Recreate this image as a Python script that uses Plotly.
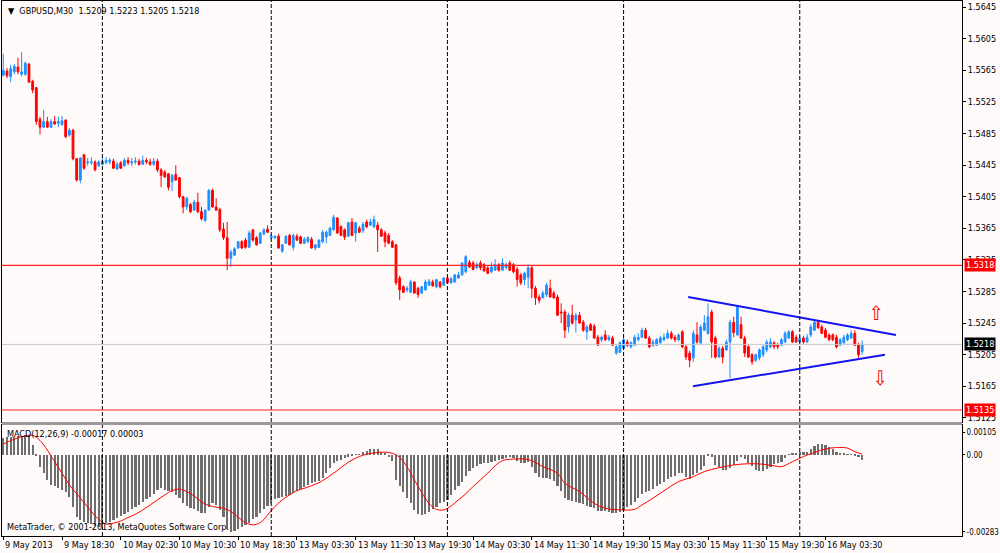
import plotly.graph_objects as go

# GBPUSD M30, one value per bar (bar 0 = 9 May 10:30)
opens = [
    1.5559, 1.5564, 1.5557, 1.5563, 1.5569, 1.5560, 1.5560, 1.5573, 1.5551, 1.5543,
    1.5503, 1.5493, 1.5500, 1.5493, 1.5500, 1.5498, 1.5496, 1.5502, 1.5483, 1.5489,
    1.5453, 1.5426, 1.5458, 1.5448, 1.5448, 1.5449, 1.5444, 1.5446, 1.5448, 1.5449,
    1.5450, 1.5440, 1.5448, 1.5444, 1.5451, 1.5448, 1.5449, 1.5450, 1.5446, 1.5451,
    1.5449, 1.5446, 1.5450, 1.5439, 1.5436, 1.5434, 1.5424, 1.5433, 1.5429, 1.5405,
    1.5392, 1.5395, 1.5388, 1.5398, 1.5386, 1.5375, 1.5388, 1.5413, 1.5392, 1.5389,
    1.5364, 1.5353, 1.5327, 1.5331, 1.5340, 1.5348, 1.5350, 1.5341, 1.5363, 1.5353,
    1.5346, 1.5358, 1.5364, 1.5353, 1.5353, 1.5355, 1.5336, 1.5346, 1.5356, 1.5341,
    1.5355, 1.5354, 1.5346, 1.5348, 1.5351, 1.5340, 1.5341, 1.5348, 1.5354, 1.5356,
    1.5363, 1.5378, 1.5367, 1.5363, 1.5355, 1.5373, 1.5359, 1.5365, 1.5362, 1.5373,
    1.5369, 1.5367, 1.5369, 1.5363, 1.5359, 1.5356, 1.5348, 1.5344, 1.5302, 1.5291,
    1.5287, 1.5284, 1.5297, 1.5289, 1.5283, 1.5287, 1.5293, 1.5297, 1.5291, 1.5297,
    1.5293, 1.5302, 1.5296, 1.5297, 1.5302, 1.5306, 1.5310, 1.5322, 1.5321, 1.5315,
    1.5321, 1.5319, 1.5315, 1.5310, 1.5312, 1.5319, 1.5312, 1.5315, 1.5321, 1.5319,
    1.5313, 1.5306, 1.5300, 1.5303, 1.5315, 1.5289, 1.5278, 1.5277, 1.5281, 1.5289,
    1.5283, 1.5278, 1.5259, 1.5259, 1.5240, 1.5255, 1.5249, 1.5255, 1.5246, 1.5234,
    1.5243, 1.5241, 1.5227, 1.5224, 1.5230, 1.5224, 1.5226, 1.5207, 1.5208, 1.5213,
    1.5221, 1.5215, 1.5217, 1.5224, 1.5227, 1.5236, 1.5226, 1.5217, 1.5217, 1.5220,
    1.5224, 1.5226, 1.5232, 1.5227, 1.5224, 1.5234, 1.5215, 1.5207, 1.5201, 1.5230,
    1.5220, 1.5236, 1.5232, 1.5259, 1.5226, 1.5202, 1.5213, 1.5211, 1.5221, 1.5246,
    1.5230, 1.5243, 1.5226, 1.5215, 1.5205, 1.5198, 1.5201, 1.5205, 1.5211, 1.5215,
    1.5220, 1.5217, 1.5217, 1.5221, 1.5226, 1.5234, 1.5227, 1.5221, 1.5226, 1.5221,
    1.5230, 1.5236, 1.5246, 1.5240, 1.5236, 1.5230, 1.5230, 1.5227, 1.5217, 1.5220,
    1.5224, 1.5226, 1.5232, 1.5217, 1.5209,
]
highs = [
    1.5586, 1.5568, 1.5572, 1.5573, 1.5581, 1.5588, 1.5576, 1.5574, 1.5553, 1.5544,
    1.5506, 1.5515, 1.5506, 1.5503, 1.5507, 1.5506, 1.5507, 1.5503, 1.5492, 1.5491,
    1.5454, 1.5455, 1.5459, 1.5454, 1.5455, 1.5451, 1.5451, 1.5454, 1.5455, 1.5454,
    1.5453, 1.5449, 1.5450, 1.5454, 1.5455, 1.5454, 1.5455, 1.5453, 1.5457, 1.5454,
    1.5453, 1.5454, 1.5453, 1.5441, 1.5439, 1.5435, 1.5434, 1.5445, 1.5430, 1.5406,
    1.5405, 1.5397, 1.5401, 1.5410, 1.5392, 1.5389, 1.5415, 1.5415, 1.5403, 1.5391,
    1.5372, 1.5373, 1.5338, 1.5341, 1.5349, 1.5350, 1.5353, 1.5362, 1.5364, 1.5355,
    1.5360, 1.5365, 1.5369, 1.5358, 1.5356, 1.5358, 1.5345, 1.5356, 1.5358, 1.5358,
    1.5358, 1.5356, 1.5354, 1.5355, 1.5354, 1.5345, 1.5351, 1.5363, 1.5362, 1.5367,
    1.5382, 1.5379, 1.5369, 1.5365, 1.5373, 1.5378, 1.5373, 1.5368, 1.5373, 1.5376,
    1.5377, 1.5381, 1.5373, 1.5365, 1.5362, 1.5359, 1.5350, 1.5345, 1.5305, 1.5293,
    1.5292, 1.5300, 1.5298, 1.5291, 1.5292, 1.5300, 1.5301, 1.5300, 1.5301, 1.5298,
    1.5303, 1.5305, 1.5303, 1.5307, 1.5310, 1.5322, 1.5331, 1.5325, 1.5324, 1.5322,
    1.5324, 1.5321, 1.5317, 1.5322, 1.5326, 1.5321, 1.5327, 1.5322, 1.5324, 1.5321,
    1.5316, 1.5308, 1.5310, 1.5319, 1.5317, 1.5292, 1.5281, 1.5286, 1.5296, 1.5300,
    1.5286, 1.5281, 1.5270, 1.5262, 1.5258, 1.5268, 1.5258, 1.5259, 1.5249, 1.5243,
    1.5245, 1.5244, 1.5230, 1.5229, 1.5236, 1.5230, 1.5229, 1.5217, 1.5222, 1.5226,
    1.5224, 1.5222, 1.5230, 1.5232, 1.5239, 1.5239, 1.5229, 1.5224, 1.5226, 1.5229,
    1.5232, 1.5236, 1.5235, 1.5230, 1.5232, 1.5236, 1.5217, 1.5210, 1.5236, 1.5246,
    1.5243, 1.5255, 1.5270, 1.5262, 1.5229, 1.5216, 1.5216, 1.5224, 1.5249, 1.5253,
    1.5268, 1.5253, 1.5229, 1.5217, 1.5207, 1.5206, 1.5213, 1.5217, 1.5224, 1.5226,
    1.5222, 1.5220, 1.5226, 1.5235, 1.5236, 1.5236, 1.5230, 1.5229, 1.5229, 1.5231,
    1.5244, 1.5250, 1.5249, 1.5243, 1.5239, 1.5232, 1.5232, 1.5230, 1.5226, 1.5230,
    1.5232, 1.5236, 1.5236, 1.5220, 1.5223,
]
lows = [
    1.5557, 1.5555, 1.5550, 1.5560, 1.5560, 1.5557, 1.5558, 1.5549, 1.5536, 1.5496,
    1.5484, 1.5492, 1.5492, 1.5492, 1.5496, 1.5493, 1.5495, 1.5479, 1.5481, 1.5451,
    1.5424, 1.5422, 1.5439, 1.5444, 1.5445, 1.5437, 1.5443, 1.5445, 1.5446, 1.5446,
    1.5440, 1.5439, 1.5440, 1.5443, 1.5445, 1.5444, 1.5446, 1.5444, 1.5445, 1.5446,
    1.5444, 1.5444, 1.5436, 1.5417, 1.5429, 1.5413, 1.5412, 1.5425, 1.5403, 1.5384,
    1.5388, 1.5384, 1.5387, 1.5384, 1.5375, 1.5373, 1.5387, 1.5391, 1.5387, 1.5360,
    1.5350, 1.5312, 1.5316, 1.5330, 1.5339, 1.5339, 1.5339, 1.5340, 1.5348, 1.5343,
    1.5345, 1.5356, 1.5359, 1.5351, 1.5351, 1.5339, 1.5334, 1.5345, 1.5343, 1.5337,
    1.5349, 1.5345, 1.5345, 1.5346, 1.5339, 1.5337, 1.5340, 1.5346, 1.5346, 1.5355,
    1.5362, 1.5358, 1.5355, 1.5350, 1.5354, 1.5355, 1.5348, 1.5359, 1.5359, 1.5365,
    1.5368, 1.5365, 1.5335, 1.5354, 1.5341, 1.5345, 1.5340, 1.5293, 1.5274, 1.5283,
    1.5284, 1.5283, 1.5282, 1.5277, 1.5282, 1.5286, 1.5292, 1.5291, 1.5289, 1.5289,
    1.5292, 1.5295, 1.5295, 1.5296, 1.5301, 1.5305, 1.5308, 1.5315, 1.5312, 1.5313,
    1.5312, 1.5310, 1.5307, 1.5308, 1.5311, 1.5310, 1.5311, 1.5313, 1.5311, 1.5308,
    1.5291, 1.5293, 1.5293, 1.5289, 1.5277, 1.5268, 1.5270, 1.5276, 1.5278, 1.5277,
    1.5276, 1.5254, 1.5245, 1.5226, 1.5233, 1.5243, 1.5233, 1.5244, 1.5234, 1.5224,
    1.5235, 1.5225, 1.5216, 1.5221, 1.5222, 1.5222, 1.5216, 1.5205, 1.5207, 1.5212,
    1.5215, 1.5213, 1.5216, 1.5222, 1.5226, 1.5225, 1.5213, 1.5215, 1.5216, 1.5219,
    1.5222, 1.5225, 1.5224, 1.5221, 1.5222, 1.5213, 1.5198, 1.5189, 1.5196, 1.5219,
    1.5217, 1.5235, 1.5230, 1.5201, 1.5200, 1.5201, 1.5194, 1.5210, 1.5175, 1.5227,
    1.5229, 1.5225, 1.5202, 1.5201, 1.5192, 1.5196, 1.5198, 1.5202, 1.5208, 1.5213,
    1.5212, 1.5212, 1.5216, 1.5220, 1.5225, 1.5220, 1.5220, 1.5220, 1.5219, 1.5220,
    1.5227, 1.5235, 1.5238, 1.5231, 1.5226, 1.5222, 1.5222, 1.5213, 1.5216, 1.5219,
    1.5222, 1.5225, 1.5216, 1.5201, 1.5205,
]
closes = [
    1.5565, 1.5558, 1.5567, 1.5570, 1.5563, 1.5563, 1.5574, 1.5550, 1.5540, 1.5500,
    1.5493, 1.5500, 1.5493, 1.5500, 1.5497, 1.5500, 1.5501, 1.5481, 1.5489, 1.5453,
    1.5426, 1.5454, 1.5441, 1.5449, 1.5449, 1.5439, 1.5449, 1.5450, 1.5451, 1.5451,
    1.5441, 1.5446, 1.5441, 1.5451, 1.5448, 1.5449, 1.5450, 1.5446, 1.5451, 1.5449,
    1.5446, 1.5450, 1.5439, 1.5432, 1.5430, 1.5417, 1.5432, 1.5426, 1.5405, 1.5392,
    1.5403, 1.5386, 1.5398, 1.5386, 1.5377, 1.5388, 1.5413, 1.5392, 1.5388, 1.5363,
    1.5353, 1.5327, 1.5335, 1.5339, 1.5348, 1.5340, 1.5341, 1.5359, 1.5350, 1.5344,
    1.5359, 1.5363, 1.5360, 1.5355, 1.5355, 1.5340, 1.5344, 1.5355, 1.5344, 1.5356,
    1.5350, 1.5346, 1.5351, 1.5353, 1.5340, 1.5344, 1.5350, 1.5360, 1.5360, 1.5365,
    1.5379, 1.5359, 1.5356, 1.5354, 1.5372, 1.5356, 1.5372, 1.5360, 1.5370, 1.5367,
    1.5373, 1.5376, 1.5363, 1.5355, 1.5348, 1.5346, 1.5341, 1.5296, 1.5287, 1.5284,
    1.5289, 1.5297, 1.5283, 1.5281, 1.5291, 1.5297, 1.5298, 1.5292, 1.5300, 1.5291,
    1.5302, 1.5296, 1.5301, 1.5306, 1.5306, 1.5321, 1.5329, 1.5316, 1.5313, 1.5319,
    1.5315, 1.5311, 1.5308, 1.5316, 1.5319, 1.5312, 1.5321, 1.5319, 1.5312, 1.5310,
    1.5300, 1.5296, 1.5308, 1.5315, 1.5289, 1.5277, 1.5274, 1.5283, 1.5293, 1.5278,
    1.5277, 1.5255, 1.5258, 1.5236, 1.5255, 1.5245, 1.5255, 1.5245, 1.5236, 1.5240,
    1.5236, 1.5226, 1.5217, 1.5227, 1.5224, 1.5227, 1.5217, 1.5215, 1.5220, 1.5224,
    1.5217, 1.5220, 1.5227, 1.5227, 1.5236, 1.5226, 1.5215, 1.5221, 1.5224, 1.5226,
    1.5227, 1.5232, 1.5226, 1.5224, 1.5230, 1.5215, 1.5202, 1.5198, 1.5232, 1.5221,
    1.5240, 1.5245, 1.5253, 1.5221, 1.5202, 1.5213, 1.5202, 1.5221, 1.5246, 1.5233,
    1.5265, 1.5226, 1.5207, 1.5202, 1.5196, 1.5205, 1.5211, 1.5215, 1.5221, 1.5221,
    1.5215, 1.5215, 1.5224, 1.5232, 1.5234, 1.5221, 1.5221, 1.5226, 1.5221, 1.5227,
    1.5240, 1.5246, 1.5239, 1.5232, 1.5227, 1.5224, 1.5224, 1.5215, 1.5224, 1.5227,
    1.5230, 1.5232, 1.5217, 1.5205, 1.5218,
]

# MACD(12,26,9) main line (histogram), one per bar
macd_hist = [
    0.00061, 0.00065, 0.00065, 0.00067, 0.00070, 0.00071, 0.00074, 0.00071, 0.00037, -0.00002,
    -0.00043, -0.00067, -0.00092, -0.00110, -0.00116, -0.00123, -0.00129, -0.00135, -0.00153, -0.00190,
    -0.00227, -0.00239, -0.00245, -0.00251, -0.00254, -0.00261, -0.00266, -0.00261, -0.00251, -0.00245,
    -0.00239, -0.00233, -0.00224, -0.00217, -0.00208, -0.00200, -0.00192, -0.00184, -0.00172, -0.00163,
    -0.00153, -0.00143, -0.00129, -0.00123, -0.00129, -0.00131, -0.00138, -0.00147, -0.00159, -0.00175,
    -0.00188, -0.00196, -0.00200, -0.00205, -0.00212, -0.00214, -0.00192, -0.00178, -0.00184, -0.00202,
    -0.00227, -0.00273, -0.00282, -0.00278, -0.00273, -0.00266, -0.00259, -0.00249, -0.00237, -0.00227,
    -0.00212, -0.00200, -0.00188, -0.00175, -0.00163, -0.00159, -0.00156, -0.00151, -0.00146, -0.00141,
    -0.00134, -0.00126, -0.00119, -0.00110, -0.00104, -0.00099, -0.00094, -0.00086, -0.00067, -0.00049,
    -0.00028, -0.00021, -0.00018, -0.00012, -0.00006, -0.00002, 0.00001, 0.00002, 0.00009, 0.00016,
    0.00021, 0.00023, 0.00021, 0.00012, 0.00004, -0.00009, -0.00021, -0.00092, -0.00116, -0.00135,
    -0.00159, -0.00178, -0.00202, -0.00217, -0.00221, -0.00217, -0.00208, -0.00200, -0.00192, -0.00178,
    -0.00172, -0.00165, -0.00147, -0.00129, -0.00114, -0.00098, -0.00077, -0.00058, -0.00049, -0.00040,
    -0.00034, -0.00031, -0.00028, -0.00025, -0.00021, -0.00018, -0.00015, -0.00012, -0.00009, -0.00012,
    -0.00021, -0.00031, -0.00031, -0.00025, -0.00043, -0.00065, -0.00082, -0.00086, -0.00086, -0.00089,
    -0.00094, -0.00114, -0.00131, -0.00159, -0.00165, -0.00168, -0.00172, -0.00175, -0.00180, -0.00188,
    -0.00192, -0.00196, -0.00205, -0.00206, -0.00205, -0.00208, -0.00212, -0.00214, -0.00208, -0.00202,
    -0.00192, -0.00184, -0.00172, -0.00159, -0.00143, -0.00135, -0.00131, -0.00126, -0.00116, -0.00107,
    -0.00098, -0.00089, -0.00080, -0.00077, -0.00067, -0.00067, -0.00080, -0.00089, -0.00074, -0.00067,
    -0.00055, -0.00040, -0.00004, -0.00006, -0.00037, -0.00043, -0.00055, -0.00055, -0.00049, -0.00037,
    -0.00021, -0.00009, -0.00016, -0.00028, -0.00040, -0.00055, -0.00058, -0.00058, -0.00053, -0.00043,
    -0.00033, -0.00031, -0.00025, -0.00012, 0.00002, 0.00006, 0.00006, 0.00009, 0.00012, 0.00012,
    0.00021, 0.00033, 0.00040, 0.00040, 0.00037, 0.00028, 0.00021, 0.00009, 0.00006, 0.00004,
    0.00002, 0.00001, -0.00001, -0.00009, -0.00017,
]

# signal line, read at selected bars
signal_idx = [0, 3, 6, 8, 10, 12, 14, 16, 18, 20, 22, 24, 26, 28, 30, 32, 34, 36, 38, 40,
              42, 44, 46, 48, 50, 52, 54, 56, 58, 60, 62, 64, 66, 68, 70, 72, 74, 76, 78, 80,
              82, 84, 86, 88, 90, 92, 94, 96, 98, 100, 102, 104, 106, 108, 110, 112, 114, 116, 118, 120,
              122, 124, 126, 128, 130, 132, 134, 136, 138, 140, 142, 144, 147, 151, 153, 157, 161, 164, 168, 172,
              174, 177, 181, 184, 188, 191, 195, 199, 202, 206, 210, 212, 215, 218, 221, 224, 227, 230, 232, 234]
signal_val = [0.00040, 0.00058, 0.00070, 0.00072, 0.00053, 0.00018, -0.00025, -0.00067, -0.00110, -0.00143,
              -0.00175, -0.00208, -0.00237, -0.00254, -0.00251, -0.00243, -0.00230, -0.00218, -0.00202, -0.00184,
              -0.00165, -0.00147, -0.00131, -0.00126, -0.00135, -0.00151, -0.00172, -0.00186, -0.00192, -0.00196,
              -0.00208, -0.00229, -0.00249, -0.00257, -0.00249, -0.00221, -0.00190, -0.00165, -0.00147, -0.00131,
              -0.00123, -0.00113, -0.00102, -0.00086, -0.00067, -0.00047, -0.00027, -0.00012, -0.00001, 0.00005,
              0.00009, 0.00010, 0.00006, -0.00009, -0.00043, -0.00092, -0.00138, -0.00178, -0.00200, -0.00202,
              -0.00188, -0.00165, -0.00143, -0.00116, -0.00092, -0.00067, -0.00040, -0.00021, -0.00016, -0.00015,
              -0.00015, -0.00021, -0.00043, -0.00067, -0.00104, -0.00135, -0.00178, -0.00196, -0.00202, -0.00200,
              -0.00184, -0.00159, -0.00123, -0.00098, -0.00080, -0.00061, -0.00047, -0.00037, -0.00033, -0.00033,
              -0.00040, -0.00043, -0.00025, -0.00006, 0.00009, 0.00022, 0.00027, 0.00025, 0.00012, 0.00003]

# time axis labels (every 16 bars)
label_idx = [0, 16, 32, 48, 64, 80, 96, 112, 128, 144, 160, 176, 192, 208, 224]
label_text = ["9 May 2013", "9 May 18:30", "10 May 02:30", "10 May 10:30", "10 May 18:30",
              "13 May 03:30", "13 May 11:30", "13 May 19:30", "14 May 03:30", "14 May 11:30",
              "14 May 19:30", "15 May 03:30", "15 May 11:30", "15 May 19:30", "16 May 03:30"]
day_start_idx = [27, 73, 121, 169, 217]

price_ticks = [1.5645, 1.5605, 1.5565, 1.5525, 1.5485, 1.5445, 1.5405, 1.5365,
               1.5325, 1.5285, 1.5245, 1.5205, 1.5165, 1.5125]
red_levels = [1.5318, 1.5135]
bid_level = 1.5218

# triangle drawn by hand on the chart
upper_x, upper_y = [186.6, 243.2], [1.5278, 1.5230]
lower_x, lower_y = [187.9, 240.2], [1.5165, 1.5205]
arrow_up = (237.8, 1.5258)
arrow_down = (238.9, 1.5176)

BG = "#FFFAFA"
FONT = "DejaVu Sans Condensed, Liberation Sans, sans-serif"
bars = list(range(len(closes)))
xr = [-0.35, 261.2]

fig = go.Figure()
fig.add_trace(go.Candlestick(
    x=bars, open=opens, high=highs, low=lows, close=closes,
    increasing=dict(line=dict(color="#1E90FF", width=1), fillcolor="#1E90FF"),
    decreasing=dict(line=dict(color="#FF0000", width=1), fillcolor="#FF0000"),
    whiskerwidth=0, hoverinfo="skip", xaxis="x", yaxis="y"))
for tx, ty in [(upper_x, upper_y), (lower_x, lower_y)]:
    fig.add_trace(go.Scatter(x=tx, y=ty, mode="lines", line=dict(color="#1414F0", width=2),
                             hoverinfo="skip", xaxis="x", yaxis="y"))

fig.add_trace(go.Bar(x=bars, y=macd_hist, width=0.6, marker=dict(color="#6E6E6E", line=dict(width=0)),
                     hoverinfo="skip", xaxis="x2", yaxis="y2"))
fig.add_trace(go.Scatter(x=signal_idx, y=signal_val, mode="lines",
                         line=dict(color="#FF0000", width=1, shape="spline"),
                         hoverinfo="skip", xaxis="x2", yaxis="y2"))

shapes = []
for d in day_start_idx:
    shapes.append(dict(type="line", xref="x", yref="paper", x0=d, x1=d, y0=0, y1=1,
                       line=dict(color="black", width=1, dash="4px,2px")))
for lv in red_levels:
    shapes.append(dict(type="line", xref="paper", yref="y", x0=0, x1=1, y0=lv, y1=lv,
                       line=dict(color="#FF2020", width=1.2)))
shapes.append(dict(type="line", xref="paper", yref="y", x0=0, x1=1, y0=bid_level, y1=bid_level,
                   line=dict(color="#C8C8C8", width=1)))
shapes.append(dict(type="rect", xref="paper", yref="paper", x0=0, x1=1, y0=0.2075, y1=0.2131,
                   fillcolor="#9A9A9A", line=dict(width=0)))

ann = []
head = "▼  GBPUSD,M30  %.4f %.4f %.4f %.4f" % (opens[-1], highs[-1], lows[-1], closes[-1])
ann.append(dict(text=head, xref="paper", yref="paper", x=0, y=1, xanchor="left", yanchor="top",
                xshift=4, yshift=-3, showarrow=False))
ann.append(dict(text="MACD(12,26,9) %.5f %.5f" % (macd_hist[-1], signal_val[-1]), xref="paper", yref="paper",
                x=0, y=0.2075, xanchor="left", yanchor="top", xshift=3, yshift=-2, showarrow=False))
ann.append(dict(text="MetaTrader, © 2001-2013, MetaQuotes Software Corp.", xref="paper", yref="paper",
                x=0, y=0, xanchor="left", yanchor="bottom", xshift=3, yshift=2, showarrow=False))
for lv, bg in [(red_levels[0], "#FF0000"), (bid_level, "#000000"), (red_levels[1], "#FF0000")]:
    ann.append(dict(text="%.4f" % lv, xref="paper", yref="y", x=1, y=lv, xanchor="left", xshift=2,
                    bgcolor=bg, font=dict(color="white", size=9), borderpad=1, showarrow=False))
for i, t in zip(label_idx, label_text):
    ann.append(dict(text=t, xref="x2", yref="paper", x=i, y=0, xanchor="left", yanchor="top",
                    xshift=0, yshift=-2, showarrow=False))
ann.append(dict(text="⇧", xref="x", yref="y", x=arrow_up[0], y=arrow_up[1], showarrow=False,
                font=dict(color="#FF0000", size=20)))
ann.append(dict(text="⇩", xref="x", yref="y", x=arrow_down[0], y=arrow_down[1], showarrow=False,
                font=dict(color="#FF0000", size=20)))

axis_common = dict(showgrid=False, zeroline=False, showline=True, mirror=True, linecolor="black",
                   linewidth=1, automargin=False)
fig.update_layout(
    width=1000, height=553, margin=dict(l=2, r=38, t=1, b=17),
    paper_bgcolor=BG, plot_bgcolor=BG, showlegend=False,
    font=dict(family=FONT, size=9, color="black"),
    shapes=shapes, annotations=ann, bargap=0,
    xaxis=dict(domain=[0, 1], anchor="y", range=xr, showticklabels=False, ticks="",
               rangeslider=dict(visible=False), **axis_common),
    yaxis=dict(domain=[0.2131, 1], anchor="x", side="right", range=[1.51198, 1.56527],
               tickvals=price_ticks, tickformat=".4f", ticks="outside", ticklen=3, tickcolor="black",
               **axis_common),
    xaxis2=dict(domain=[0, 1], anchor="y2", range=xr, tickvals=label_idx, showticklabels=False,
                ticks="outside", ticklen=3, tickcolor="black", **axis_common),
    yaxis2=dict(domain=[0, 0.2075], anchor="x2", side="right", range=[-0.00298, 0.00110],
                tickvals=[0.00084, 0, -0.00283], ticktext=["0.00105", "0.00", "-0.00283"],
                tickfont=dict(size=8), ticks="outside", ticklen=2, tickcolor="black", **axis_common),
)

# the page's default 8px body margin would push the chart off the window
fig.write_html("out.html", config={"displayModeBar": False},
               post_script="document.body.style.margin='0px';"
               "document.body.style.background='%s';" % BG)
